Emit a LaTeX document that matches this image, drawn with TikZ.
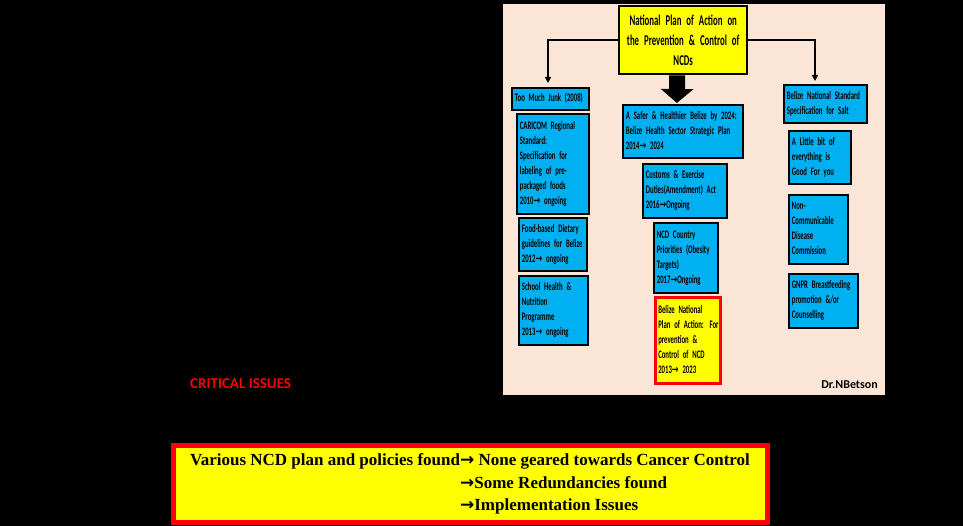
\documentclass[tikz,border=0pt]{standalone}
\usepackage{fontspec}
\usetikzlibrary{arrows.meta}
\newfontfamily\boxfont[FakeStretch=0.585]{Carlito}
\newfontfamily\boxarrfont[FakeStretch=0.7]{DejaVu Sans}
\newfontfamily\botarrfont{DejaVu Sans}
\newfontfamily\sigfont{Carlito}
\newfontfamily\botfont{Liberation Serif}
\definecolor{panelbg}{HTML}{FBE5D6}
\definecolor{boxblue}{HTML}{00B0F0}
\definecolor{hiyellow}{HTML}{FFFF00}
\definecolor{hired}{HTML}{FF0000}
\newcommand{\ar}{{\boxarrfont\bfseries →}}
\newcommand{\botar}{{\botarrfont\bfseries →}}
\newcommand{\bxfnt}{\boxfont\bfseries\fontsize{11.5}{15}\selectfont\spaceskip=1.8pt plus 0.5pt\relax}
\newcommand{\ttlfnt}{\boxfont\bfseries\fontsize{15}{20}\selectfont\spaceskip=2.3pt plus 0.5pt\relax}
\newcommand{\lns}[1]{\begin{tabular}{@{}l@{}}#1\end{tabular}}
\begin{document}
\begin{tikzpicture}[x=1pt,y=-1pt,
  bx/.style n args={3}{draw=black, line width=1.8pt, fill=boxblue, anchor=north west,
     inner xsep=3pt, inner ysep=0pt, minimum width=#1, minimum height=#2,
     text width=#3, align=left, font=\bxfnt},
  conn/.style={draw=black, line width=2pt, -{Triangle[length=6pt,width=6pt]}},
]
\useasboundingbox (0,0) rectangle (963,526);
\fill[black] (0,0) rectangle (963,526);
\fill[panelbg] (503,4) rectangle (885,395);

% title
\node[draw=black, line width=2.4pt, fill=hiyellow, anchor=north west, inner sep=0pt,
      minimum width=128pt, minimum height=68pt, text width=122pt, align=center,
      font=\ttlfnt] (title) at (618,5)
  {National Plan of Action on\\the Prevention \& Control of\\NCDs};

% left column
\node[bx={77pt}{22pt}{71pt}] (junk) at (511,87) {\lns{Too Much Junk (2008)}};
\node[bx={72pt}{100pt}{66pt}] (caricom) at (516,113) {\lns{CARICOM Regional\\Standard:\\Specification for\\labeling of pre-\\packaged foods\\2010\ar{} ongoing}};
\node[bx={68pt}{53pt}{62pt}] (food) at (518,217) {\lns{Food-based Dietary\\guidelines for Belize\\2012\ar{} ongoing}};
\node[bx={69pt}{69pt}{63pt}] (school) at (518,275) {\lns{School Health \&\\Nutrition\\Programme\\2013\ar{} ongoing}};

% middle column
\node[bx={120pt}{53pt}{114pt}] (safer) at (622,104) {\lns{A Safer \& Healthier Belize by 2024:\\Belize Health Sector Strategic Plan\\2014\ar{} 2024}};
\node[bx={84pt}{54pt}{78pt}] (customs) at (642,163) {\lns{Customs \& Exercise\\Duties(Amendment) Act\\2016\ar{}Ongoing}};
\node[bx={64pt}{70pt}{58pt}] (ncdcp) at (653,222) {\lns{NCD Country\\Priorities (Obesity\\Targets)\\2017\ar{}Ongoing}};
\node[bx={65pt}{86pt}{59pt}, draw=hired, line width=2.6pt, fill=hiyellow] (bnpa) at (654,296) {\lns{Belize National\\Plan of Action: For\\prevention \&\\Control of NCD\\2013\ar{} 2023}};

% right column
\node[bx={83pt}{38pt}{77pt}] (salt) at (783,84) {\lns{Belize National Standard\\Specification for Salt}};
\node[bx={62pt}{53pt}{56pt}] (little) at (788,130) {\lns{A Little bit of\\everything is\\Good For you}};
\node[bx={59pt}{69pt}{53pt}] (ncdc) at (788,194) {\lns{Non-\\Communicable\\Disease\\Commission}};
\node[bx={69pt}{54pt}{63pt}] (gnpr) at (788,273) {\lns{GNPR Breastfeeding\\promotion \&/or\\Counselling}};

% connectors
\coordinate (ltip) at (548,83);
\coordinate (rtip) at (815,81);
\draw[conn] (title.west) -| (ltip);
\draw[conn] (title.east) -| (rtip);
\draw[line width=16pt, -{Triangle[length=14pt,width=32pt]}]
  ([xshift=-6pt]title.south) -- ([xshift=-6pt,yshift=1pt]safer.north);

% signature
\node[anchor=base east, inner sep=0pt, font=\sigfont\bfseries\fontsize{12}{14}\selectfont] (sig) at (878,388) {Dr.NBetson};

% critical issues
\node[anchor=base west, inner sep=0pt, text=hired, font=\sigfont\bfseries\fontsize{15}{17}\selectfont] (crit) at (190,388) {CRITICAL ISSUES};

% bottom box
\node[draw=hired, line width=5pt, fill=hiyellow, anchor=north west, inner sep=0pt,
      minimum width=594pt, minimum height=77pt,
      font=\botfont\bfseries\fontsize{17}{22.5}\selectfont] (issues) at (170.5,442.5)
  {\begin{tabular}{@{}l@{}l@{}}
    Various NCD plan and policies found & \botar{} None geared towards Cancer Control\\
    & \botar{}Some Redundancies found\\
    & \botar{}Implementation Issues
   \end{tabular}};
\end{tikzpicture}
\end{document}
